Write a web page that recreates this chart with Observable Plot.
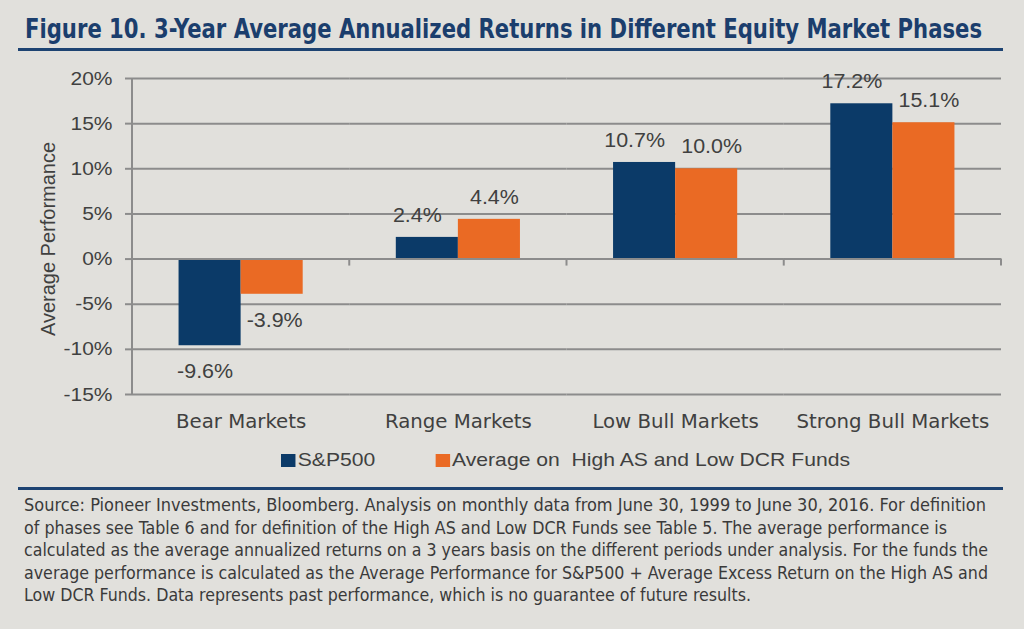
<!DOCTYPE html>
<html><head><meta charset="utf-8">
<script src="https://cdn.jsdelivr.net/npm/d3@7"></script>
<script src="https://cdn.jsdelivr.net/npm/@observablehq/plot@0.6"></script>
<style>
html,body{margin:0;padding:0;background:#e1e0dc;}
#wrap{position:relative;width:1024px;height:629px;overflow:hidden;background:#e1e0dc;}
.cond{font-family:"Liberation Sans Narrow","DejaVu Sans Condensed","Roboto Condensed",Roboto,"Liberation Sans",sans-serif;font-stretch:condensed;}
#title{position:absolute;left:25px;top:16px;font-weight:bold;font-size:26px;line-height:1;color:#1b3e6d;white-space:nowrap;transform-origin:0 0;}
.rule{position:absolute;left:18px;width:985px;height:3px;background:#1d4372;}
#chart{position:absolute;left:0;top:60px;}
#ylab{position:absolute;left:48px;top:239px;width:0;height:0;}
#ylab span{position:absolute;left:0;top:0;transform:translate(-50%,-50%) rotate(-90deg);white-space:nowrap;font-family:"Liberation Sans",Arial,sans-serif;font-size:20px;color:#404040;display:block;}
#legend{position:absolute;left:281px;top:446px;transform-origin:0 50%;white-space:pre;}
#legend .lg-swatches{margin:0 !important;min-height:28px;font-family:"Liberation Sans",Arial,sans-serif;font-size:19px;color:#404040;white-space:pre;flex-wrap:nowrap;}
#legend .lg-swatch{margin-right:54px !important;}
#legend .lg-swatch svg{margin-right:2px !important;}
#caption{position:absolute;left:24px;top:494px;font-size:18.5px;line-height:22.5px;color:#3a3a3a;white-space:pre;}
#caption div{transform-origin:0 0;white-space:pre;}
#caption div span{display:inline-block;}
</style></head>
<body><div id="wrap">
<div id="title" class="cond">Figure 10. 3-Year Average Annualized Returns in Different Equity Market Phases</div>
<div class="rule" style="top:48px"></div>
<div id="chart"></div>
<div id="ylab"><span>Average Performance</span></div>
<div id="legend"></div>
<div class="rule" style="top:487px"></div>
<div id="caption" class="cond"></div>
</div>
<script>
// ---- data ----
const categories = ["Bear Markets", "Range Markets", "Low Bull Markets", "Strong Bull Markets"];
const series = ["S&P500", "Average on  High AS and Low DCR Funds"];
const sp500 = [-9.6, 2.4, 10.7, 17.2];
const funds = [-3.9, 4.4, 10.0, 15.1];
const yTicks = [-15, -10, -5, 0, 5, 10, 15, 20];
const colors = ["#0b3a68", "#ea6a24"];
const captionLines = [
  "Source: Pioneer Investments, Bloomberg. Analysis on monthly data from June 30, 1999 to June 30, 2016. For definition",
  "of phases see Table 6 and for definition of the High AS and Low DCR Funds see Table 5. The average performance is",
  "calculated as the average annualized returns on a 3 years basis on the different periods under analysis. For the funds the",
  "average performance is calculated as the Average Performance for S&P500 + Average Excess Return on the High AS and",
  "Low DCR Funds. Data represents past performance, which is no guarantee of future results."
];
// right edge of each caption line in the reference (layout)
const captionRight = [986, 947, 988, 988, 751];
// label nudge per series (style)
const labelDx = [-10, 5];

const rows = [];
categories.forEach((c, i) => {
  rows.push({category: c, series: series[0], value: sp500[i]});
  rows.push({category: c, series: series[1], value: funds[i]});
});
const fmt = d => d.value.toFixed(1) + "%";
const gray = "#8c8c8c";
const txt = "#404040";

function stretchSvgText(texts, s) {
  if (!texts.length || !isFinite(s)) return;
  texts.forEach(t => {
    const tr = t.getAttribute("transform");
    if (tr) t.setAttribute("transform", tr + ` scale(${s},1)`);
    else {
      const x = +t.getAttribute("x") || 0;
      t.setAttribute("transform", `translate(${x},0) scale(${s},1) translate(${-x},0)`);
    }
  });
}
function widthOf(texts, str) {
  const t = texts.find(t => t.textContent.trim() === str);
  return t ? t.getComputedTextLength() : NaN;
}

const labelMarks = [];
series.forEach((s, k) => {
  labelMarks.push(Plot.text(rows.filter(d => d.series === s && d.value >= 0), {fx: "category", x: "series", y: "value", text: fmt, dy: -22, dx: labelDx[k], fontSize: 20, fill: txt}));
  labelMarks.push(Plot.text(rows.filter(d => d.series === s && d.value < 0), {fx: "category", x: "series", y: "value", text: fmt, dy: 26, dx: labelDx[k] / 2, fontSize: 20, fill: txt}));
});

try {
  const plot = Plot.plot({
    width: 1024, height: 380,
    marginLeft: 132, marginRight: 23, marginTop: 18, marginBottom: 46,
    style: {background: "transparent", fontFamily: "'Liberation Sans', Arial, sans-serif", fontSize: "19px", color: txt, overflow: "visible"},
    fx: {domain: categories, paddingInner: 0, paddingOuter: 0, round: false, label: null},
    x: {domain: series, paddingInner: 0, paddingOuter: 0.75, round: false, axis: null},
    y: {domain: [-15, 20], label: null},
    color: {domain: series, range: colors},
    marks: [
      Plot.gridY(yTicks, {stroke: gray, strokeOpacity: 1, strokeWidth: 2}),
      Plot.barY(rows, {fx: "category", x: "series", y: "value", fill: "series"}),
      Plot.ruleY([0], {stroke: gray, strokeWidth: 2}),
      ...labelMarks,
      Plot.axisY(yTicks, {tickSize: 7, tickPadding: 13, tickFormat: d => d + "%", stroke: gray, strokeWidth: 2, strokeOpacity: 1, fill: txt, label: null, fontSize: 19}),
      Plot.axisFx({anchor: "bottom", tickSize: 0, tickPadding: 20, label: null, fill: txt, fontSize: 19})
    ]
  });
  document.getElementById("chart").appendChild(plot);

  // axis line and category boundary ticks, placed with the plot's own scales
  const fxS = plot.scale("fx"), yS = plot.scale("y");
  const svg = d3.select(plot);
  const left = fxS.range[0], right = fxS.range[1];
  svg.append("line").attr("x1", left).attr("x2", left)
    .attr("y1", yS.apply(20)).attr("y2", yS.apply(-15))
    .attr("stroke", gray).attr("stroke-width", 2);
  const bounds = categories.map(c => fxS.apply(c)).concat([right]);
  svg.append("g").selectAll("line").data(bounds).join("line")
    .attr("x1", d => d).attr("x2", d => d)
    .attr("y1", yS.apply(0)).attr("y2", yS.apply(0) + 7)
    .attr("stroke", gray).attr("stroke-width", 2);

  // category labels: condensed face, widened to the reference's width
  const catTexts = Array.from(plot.querySelectorAll('g[aria-label="fx-axis tick label"] text'));
  catTexts.forEach(t => {
    t.style.fontFamily = '"Liberation Sans Narrow","DejaVu Sans Condensed","Roboto Condensed",Roboto,"Liberation Sans",sans-serif';
    t.style.fontStretch = "condensed";
    t.style.fontSize = "19px";
  });
  stretchSvgText(catTexts, (130 + 148 + 166 + 193) / d3.sum(catTexts, t => t.getComputedTextLength()));

  // y tick labels and value labels slightly wider, as in the reference
  const yTexts = Array.from(plot.querySelectorAll('g[aria-label="y-axis tick label"] text'));
  stretchSvgText(yTexts, 49 / widthOf(yTexts, "-15%"));
  const vTexts = Array.from(plot.querySelectorAll('g[aria-label="text"] text'));
  stretchSvgText(vTexts, 56 / widthOf(vTexts, "-9.6%"));
} catch (e) { console.error(e); }

// legend
try {
  const lg = Plot.legend({color: {domain: series, range: colors}, legend: "swatches", swatchSize: 13, className: "lg"});
  const legendDiv = document.getElementById("legend");
  legendDiv.appendChild(lg);
  const lgItems = lg.querySelectorAll(".lg-swatch");
  const lgRight = lgItems[lgItems.length - 1].getBoundingClientRect().right - legendDiv.getBoundingClientRect().left;
  legendDiv.style.transform = `scaleX(${(850 - 281) / lgRight})`;
} catch (e) { console.error(e); }

// title fit
const title = document.getElementById("title");
title.style.transform = `scaleX(${(982 - 25) / title.getBoundingClientRect().width})`;

// caption, each line fitted to its width in the reference
const cap = document.getElementById("caption");
captionLines.forEach((l, i) => {
  const d = document.createElement("div");
  const s = document.createElement("span");
  s.textContent = l;
  d.appendChild(s);
  cap.appendChild(d);
  const w = s.getBoundingClientRect().width;
  d.style.transform = `scaleX(${(captionRight[i] - 24) / w})`;
});
</script>
</body></html>
